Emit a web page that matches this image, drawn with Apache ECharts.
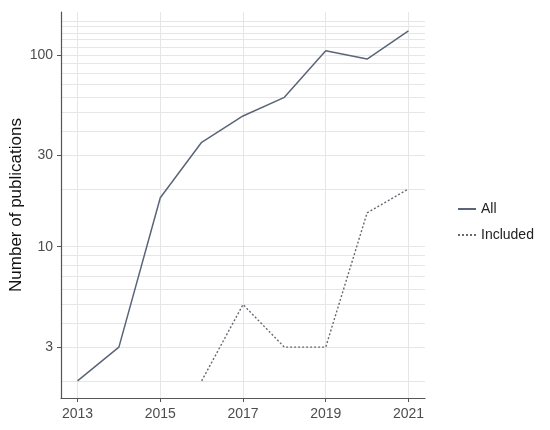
<!DOCTYPE html>
<html>
<head>
<meta charset="utf-8">
<script src="https://cdn.jsdelivr.net/npm/echarts@6/dist/echarts.min.js"></script>
<style>html,body{margin:0;padding:0;background:#fff;}#c{width:550px;height:430px;}</style>
</head>
<body>
<div id="c"></div>
<script>
const years = [2013, 2014, 2015, 2016, 2017, 2018, 2019, 2020, 2021];
const allPubs = [2, 3, 18, 35, 48, 60, 105, 95, 133];
const includedPubs = [null, null, null, 2, 5, 3, 3, 15, 20];
const yTickLabels = [3, 10, 30, 100];
const yGridValues = [2, 3, 4, 5, 6, 7, 8, 9, 10, 20, 30, 40, 50, 60, 70, 80, 90, 100, 110, 120, 130, 140, 150];
const xTickLabels = [2013, 2015, 2017, 2019, 2021];

const chart = echarts.init(document.getElementById('c'), null, {renderer: 'canvas'});
const txt = {color: '#4d4d4d', fontSize: 14, fontFamily: 'Liberation Sans, Arial, sans-serif'};
const yMin = 1.63, yMax = 167;
chart.setOption({
  animation: false,
  grid: {left: 61, right: 125, top: 12, bottom: 32, containLabel: false, outerBoundsMode: 'none'},
  legend: {
    orient: 'vertical', left: 452, top: 197, itemGap: 12, itemWidth: 18, itemHeight: 10,
    itemStyle: {opacity: 0},
    textStyle: {color: '#222', fontSize: 14, fontFamily: 'Liberation Sans, Arial, sans-serif'},
    data: ['All', 'Included']
  },
  xAxis: {
    type: 'value', min: 2012.6, max: 2021.4,
    axisLine: {show: true, onZero: false, lineStyle: {color: '#555', width: 1.2}},
    axisTick: {show: true, customValues: xTickLabels, length: 4, lineStyle: {color: '#555'}},
    axisLabel: {customValues: xTickLabels, ...txt, margin: 9, formatter: v => String(v)},
    splitLine: {show: true, lineStyle: {color: '#e6e6e6', width: 1}}
  },
  yAxis: [{
    type: 'log', logBase: 10, min: yMin, max: yMax,
    axisLine: {show: true, lineStyle: {color: '#555', width: 1.2}},
    axisTick: {show: false, customValues: yGridValues},
    axisLabel: {show: true, customValues: yTickLabels, ...txt, margin: 8, formatter: v => String(Math.round(v))},
    splitLine: {show: true, lineStyle: {color: '#e6e6e6', width: 1}},
    minorSplitLine: {show: false},
    name: 'Number of publications', nameLocation: 'middle', nameGap: 36, nameMoveOverlap: false,
    nameTextStyle: {color: '#111', fontSize: 17, fontFamily: 'Liberation Sans, Arial, sans-serif'}
  }, {
    type: 'log', logBase: 10, min: yMin, max: yMax, position: 'left',
    axisLine: {show: false},
    axisTick: {show: true, customValues: yTickLabels, length: 4, lineStyle: {color: '#555'}},
    axisLabel: {show: false},
    splitLine: {show: false}
  }],
  series: [{
    name: 'All', type: 'line', showSymbol: false, symbol: 'none',
    data: years.map((y, i) => [y, allPubs[i]]),
    lineStyle: {color: '#5b6579', width: 1.5, type: 'solid'},
    itemStyle: {color: '#5b6579'}
  }, {
    name: 'Included', type: 'line', showSymbol: false, symbol: 'none', connectNulls: false,
    data: years.map((y, i) => [y, includedPubs[i]]),
    lineStyle: {color: '#666a72', width: 1.4, type: [2, 2]},
    itemStyle: {color: '#666a72'}
  }]
});
</script>
</body>
</html>
